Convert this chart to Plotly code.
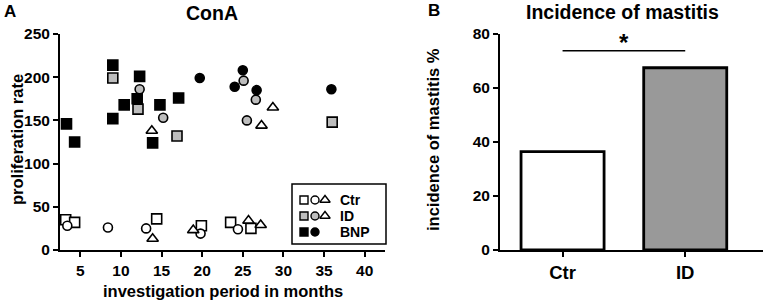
import plotly.graph_objects as go

# ---------------- data: panel A (ConA proliferation) ----------------
ctr_sq_x = [3.2, 4.3, 14.4, 19.9, 23.5, 26.0]
ctr_sq_y = [35, 32, 36, 28, 32, 25]
ctr_ci_x = [3.4, 8.4, 13.1, 19.8, 24.4]
ctr_ci_y = [28, 26, 25, 19, 24]
ctr_tr_x = [13.9, 18.9, 25.7, 27.2]
ctr_tr_y = [13, 23, 34, 29]

id_sq_x = [9.0, 12.1, 16.9, 36.0]
id_sq_y = [199, 163, 132, 148]
id_ci_x = [12.3, 15.2, 25.1, 26.6, 25.5]
id_ci_y = [186, 153, 196, 174, 150]
id_tr_x = [13.8, 27.3, 28.7]
id_tr_y = [138, 144, 165]

bnp_sq_x = [3.3, 4.3, 9.0, 9.0, 10.4, 12.3, 12.0, 13.9, 14.8, 17.1]
bnp_sq_y = [146, 125, 214, 152, 168, 201, 175, 124, 168, 176]
bnp_ci_x = [19.7, 25.0, 24.0, 26.7, 35.9]
bnp_ci_y = [199, 208, 189, 185, 186]

x_ticks = [5, 10, 15, 20, 25, 30, 35, 40]
y_ticks = [0, 50, 100, 150, 200, 250]

# ---------------- data: panel B (incidence) ----------------
groups = ["Ctr", "ID"]
incidence = [36.4, 67.5]
sig_level = 73.8
bar_y_ticks = [0, 20, 40, 60, 80]

W, H = 765, 302
FONT = "Liberation Sans"
GRAY = "#bdbdbd"


def px_x(p):
    return p / W


def px_y(p):
    return (H - p) / H


fig = go.Figure()


def add_pts(x, y, symbol, fill, size):
    fig.add_trace(go.Scatter(
        x=x, y=y, mode="markers", xaxis="x", yaxis="y", showlegend=False,
        marker=dict(symbol=symbol, size=size, color=fill,
                    line=dict(color="black", width=1.6)),
    ))


add_pts(ctr_sq_x, ctr_sq_y, "square", "white", 10)
add_pts(ctr_ci_x, ctr_ci_y, "circle", "white", 9)
add_pts(ctr_tr_x, ctr_tr_y, "triangle-up", "white", 10)
add_pts(id_sq_x, id_sq_y, "square", GRAY, 10)
add_pts(id_ci_x, id_ci_y, "circle", GRAY, 9)
add_pts(id_tr_x, id_tr_y, "triangle-up", "white", 10)
add_pts(bnp_sq_x, bnp_sq_y, "square", "black", 10)
add_pts(bnp_ci_x, bnp_ci_y, "circle", "black", 9)

# Panel B bars
fig.add_trace(go.Bar(
    x=groups, y=incidence, xaxis="x2", yaxis="y2", showlegend=False,
    width=0.677,
    marker=dict(color=["white", "#999999"], line=dict(color="black", width=2.8)),
))

# Custom legend glyphs on an overlay axis (pixel offsets inside the legend box)
leg_rows = [16, 32, 48]
leg_sym_x = [12, 23, 33]
legend_specs = [
    (["square", "circle", "triangle-up"], ["white", "white", "white"]),
    (["square", "circle", "triangle-up"], [GRAY, GRAY, "white"]),
    (["square", "circle"], ["black", "black"]),
]
for row_y, (syms, fills) in zip(leg_rows, legend_specs):
    for sx, sym, fc in zip(leg_sym_x, syms, fills):
        fig.add_trace(go.Scatter(
            x=[sx], y=[row_y], mode="markers", xaxis="x3", yaxis="y3",
            showlegend=False,
            marker=dict(symbol=sym, size=8 if sym != "triangle-up" else 9, color=fc,
                        line=dict(color="black", width=1.4)),
        ))

axis_common = dict(
    showline=True, linecolor="black", linewidth=2, ticks="outside",
    ticklen=5, tickwidth=2, tickcolor="black", showgrid=False, zeroline=False,
    automargin=False,
    tickfont=dict(family=FONT, size=15.5, color="black", weight="bold"),
)

dom_y = [px_y(250), px_y(34)]

fig.update_layout(
    width=W, height=H, margin=dict(l=0, r=0, t=0, b=0, autoexpand=False),
    paper_bgcolor="white", plot_bgcolor="white",
    xaxis=dict(domain=[px_x(60), px_x(385)], range=[2.5, 42.5],
               tickvals=x_ticks, anchor="y", **axis_common),
    yaxis=dict(domain=dom_y, range=[0, 250], tickvals=y_ticks, anchor="x",
               **axis_common),
    xaxis2=dict(domain=[px_x(500), px_x(763)], range=[-0.51, 1.634],
                anchor="y2", **{**axis_common,
                                "tickfont": dict(family=FONT, size=18.5, color="black",
                                                 weight="bold")}),
    yaxis2=dict(domain=dom_y, range=[0, 80], tickvals=bar_y_ticks, anchor="x2",
                **axis_common),
    xaxis3=dict(domain=[px_x(292), px_x(386)], range=[0, 94], visible=False,
                anchor="y3", fixedrange=True),
    yaxis3=dict(domain=[px_y(244), px_y(184)], range=[60, 0], visible=False,
                anchor="x3", fixedrange=True),
    showlegend=False,
)

# Legend box
fig.add_shape(type="rect", xref="paper", yref="paper",
              x0=px_x(292), x1=px_x(386), y0=px_y(244), y1=px_y(184),
              line=dict(color="black", width=1.5), fillcolor="rgba(0,0,0,0)")
for row_y, lab in zip(leg_rows, ["Ctr", "ID", "BNP"]):
    fig.add_annotation(x=46, y=row_y, xref="x3", yref="y3", text=lab,
                       showarrow=False, xanchor="left", yanchor="middle",
                       font=dict(family=FONT, size=14, color="black", weight="bold"))

# Significance line and star
fig.add_shape(type="line", xref="x2", yref="y2", x0=0, x1=1, y0=sig_level, y1=sig_level,
              line=dict(color="black", width=1.6))
fig.add_annotation(x=0.5, y=px_y(43), xref="x2", yref="paper", text="*", showarrow=False,
                   yanchor="middle",
                   font=dict(family=FONT, size=24, color="black", weight="bold"))


def txt(x, y, t, size, angle=0, xanchor="center"):
    fig.add_annotation(x=px_x(x), y=px_y(y), xref="paper", yref="paper", text=t,
                       showarrow=False, textangle=angle, xanchor=xanchor,
                       yanchor="middle",
                       font=dict(family=FONT, size=size, color="black", weight="bold"))


txt(10, 12, "A", 17)
txt(434, 11, "B", 17)
txt(212, 13, "ConA", 19.5)
txt(622, 12, "Incidence of mastitis", 19.5)
txt(17, 140, "proliferation rate", 16.5, angle=-90)
txt(433, 140, "incidence of mastitis %", 16.5, angle=-90)
txt(223, 291, "investigation period in months", 16.5)

fig.write_html("out.html", config={"displayModeBar": False},
               post_script="document.body.style.margin='0';")
